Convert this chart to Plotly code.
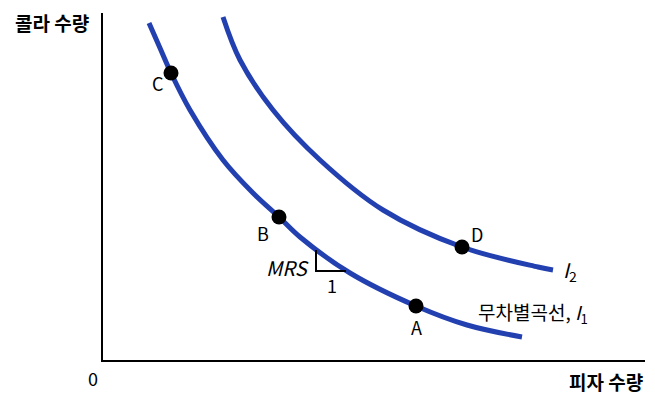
import plotly.graph_objects as go

# Indifference curve I1 (x = pizza quantity, y = cola quantity)
i1_x = [46, 57, 68, 87, 120, 150, 176, 197, 247, 313, 364, 419]
i1_y = [337, 312, 287, 250, 200, 167, 143, 123, 87, 54, 35, 23]
# Indifference curve I2
i2_x = [120, 137, 170, 217, 280, 359, 435, 450]
i2_y = [343, 300, 250, 200, 150, 113, 93, 90]
# Labelled points
pt_names = ["C", "B", "A", "D"]
pt_x = [68, 176, 313, 359]
pt_y = [287, 143, 54, 113]
# MRS triangle
tri_x = [213, 213, 243]
tri_y = [110, 89, 89]

X_MAX, Y_MAX = 542, 347
BLUE = "#2340b0"
KR = "Noto Sans CJK KR"

fig = go.Figure()
fig.add_trace(go.Scatter(x=i1_x, y=i1_y, mode="lines",
                         line=dict(color=BLUE, width=5, shape="spline", smoothing=1.0)))
fig.add_trace(go.Scatter(x=i2_x, y=i2_y, mode="lines",
                         line=dict(color=BLUE, width=5, shape="spline", smoothing=1.0)))
fig.add_trace(go.Scatter(x=tri_x, y=tri_y, mode="lines",
                         line=dict(color="black", width=2)))
fig.add_trace(go.Scatter(x=pt_x, y=pt_y, mode="markers",
                         marker=dict(color="black", size=15)))

ann = []
lab_off = {"C": (-14, -10), "B": (-16, -16), "A": (0, -21), "D": (15, 13)}
for n, x, y in zip(pt_names, pt_x, pt_y):
    dx, dy = lab_off[n]
    ann.append(dict(x=x + dx, y=y + dy, text=n, showarrow=False,
                    font=dict(family=KR, size=18, color="black")))
ann += [
    dict(x=184, y=93, text="<i>MRS</i>", showarrow=False,
         font=dict(family=KR, size=20, color="black")),
    dict(x=229, y=75, text="1", showarrow=False,
         font=dict(family=KR, size=18, color="black")),
    dict(x=458, y=90, text="<i>I</i><sub>2</sub>", showarrow=False, xanchor="left",
         font=dict(family=KR, size=20, color="black")),
    dict(x=373, y=47, text="무차별곡선, <i>I</i><sub>1</sub>", showarrow=False, xanchor="left",
         font=dict(family=KR, size=19, color="black")),
    dict(x=-51 / X_MAX, y=337 / Y_MAX, xref="paper", yref="paper",
         xanchor="center", yanchor="middle",
         text="<b>콜라 수량</b>", showarrow=False,
         font=dict(family=KR, size=19, color="black")),
    dict(x=1.0, y=-21 / Y_MAX, xref="paper", yref="paper",
         xanchor="right", yanchor="middle",
         text="<b>피자 수량</b>", showarrow=False,
         font=dict(family=KR, size=19, color="black")),
    dict(x=-10 / X_MAX, y=-18 / Y_MAX, xref="paper", yref="paper",
         xanchor="center", yanchor="middle",
         text="0", showarrow=False,
         font=dict(family=KR, size=18, color="black")),
]

fig.update_layout(
    width=639, height=395,
    margin=dict(l=95, r=2, t=5, b=43),
    paper_bgcolor="white", plot_bgcolor="white",
    showlegend=False,
    annotations=ann,
    xaxis=dict(range=[0, X_MAX], showgrid=False, zeroline=False, showticklabels=False,
               ticks="", showline=True, linecolor="black", linewidth=1.5),
    yaxis=dict(range=[0, Y_MAX], showgrid=False, zeroline=False, showticklabels=False,
               ticks="", showline=True, linecolor="black", linewidth=1.5),
)
fig.write_html("out.html")
